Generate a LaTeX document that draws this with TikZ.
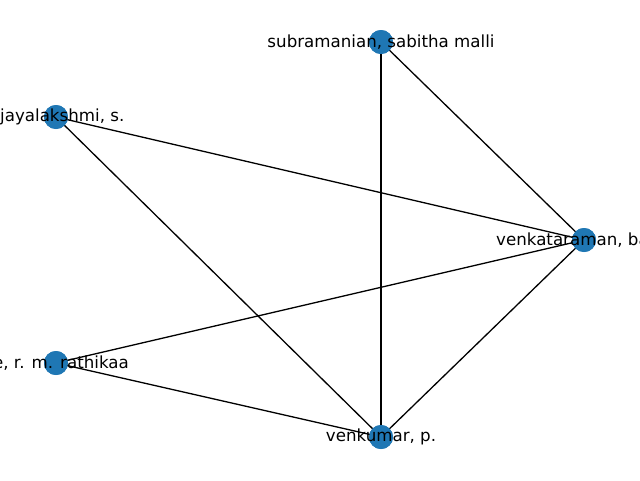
\documentclass[tikz,border=0pt]{standalone}
\usepackage{fontspec}
\setmainfont{DejaVu Sans}
\definecolor{nodeblue}{HTML}{1F77B4}
\tikzset{
  vtx/.style={circle,fill=nodeblue,draw=none,minimum size=24pt,inner sep=0pt},
  lbl/.style={font=\fontsize{16.67}{20}\selectfont,inner sep=0pt,text=black},
  edge/.style={draw=black,line width=1.3pt}
}
\begin{document}
\begin{tikzpicture}[x=1pt,y=-1pt]
\useasboundingbox (0,0) rectangle (640,480);
\clip (0,0) rectangle (640,480);
\node[vtx] (sub) at (381,42) {};
\node[vtx] (jay) at (56,117) {};
\node[vtx] (ven) at (584,240) {};
\node[vtx] (rat) at (56,363) {};
\node[vtx] (kum) at (381,437) {};
\draw[edge] (sub.center) -- (ven.center);
\draw[edge] (sub.center) -- (kum.center);
\draw[edge] (jay.center) -- (ven.center);
\draw[edge] (jay.center) -- (kum.center);
\draw[edge] (rat.center) -- (ven.center);
\draw[edge] (rat.center) -- (kum.center);
\draw[edge] (ven.center) -- (kum.center);
\node[vtx] at (sub) {};
\node[vtx] at (jay) {};
\node[vtx] at (ven) {};
\node[vtx] at (rat) {};
\node[vtx] at (kum) {};
\node[lbl] (lsub) at (381,42) {subramanian, sabitha malli};
\node[lbl,anchor=west] (ljay) at (0,117) {jayalakshmi, s.};
\node[lbl,anchor=west] (lven) at (496,240) {venkataraman, ba};
\node[lbl,anchor=east] (lrat) at (129,363) {e, r. m. rathikaa};
\node[lbl] (lkum) at (381,437) {venkumar, p.};
\end{tikzpicture}
\end{document}
